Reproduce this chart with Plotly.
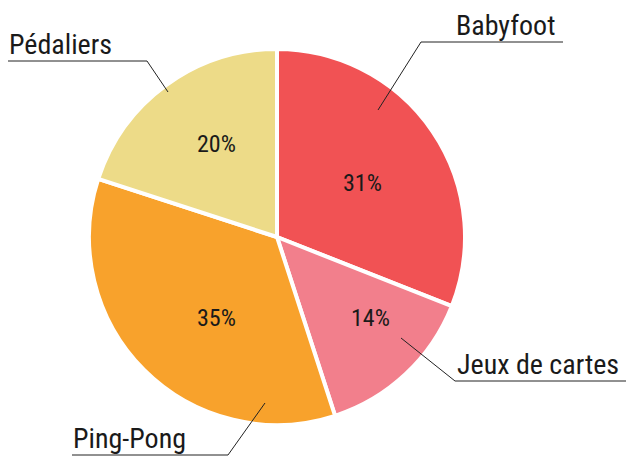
import math
import plotly.graph_objects as go

categories = ["Babyfoot", "Jeux de cartes", "Ping-Pong", "Pédaliers"]
values = [31, 14, 35, 20]
colors = ["#F15254", "#F27F8C", "#F8A22C", "#EDDB88"]

W, H = 626, 456
CX, CY, R = 277, 237, 188
FONT = "Liberation Sans Narrow, Arial Narrow, Roboto Condensed, sans-serif"

# outside label layout (pixels): line start, elbow, line end, text x, anchor
label_layout = {
    "Babyfoot":       dict(start=(378, 110), elbow=(421, 42), end=(563, 42), tx=557, anchor="right"),
    "Jeux de cartes": dict(start=(401, 338), elbow=(455, 381), end=(626, 381), tx=455, anchor="left"),
    "Ping-Pong":      dict(start=(265, 403), elbow=(228, 455), end=(72, 455), tx=71, anchor="left"),
    "Pédaliers":      dict(start=(168, 92), elbow=(147, 61), end=(8, 61), tx=7, anchor="left"),
}
# inside percent label placement: (angle offset from slice middle in deg, radius in px)
pct_layout = {
    "Babyfoot": (2, 101),
    "Jeux de cartes": (-6, 124),
    "Ping-Pong": (-8.5, 101),
    "Pédaliers": (3, 111),
}

def px(x):
    return x / W

def py(y):
    return 1 - y / H

fig = go.Figure(go.Pie(
    labels=categories,
    values=values,
    sort=False,
    direction="clockwise",
    rotation=0,
    marker=dict(colors=colors, line=dict(color="white", width=4)),
    textinfo="none",
    domain=dict(x=[px(CX - R), px(CX + R)], y=[py(CY + R), py(CY - R)]),
    hoverinfo="label+percent",
))

shapes = []
annotations = []
total = sum(values)
cum = 0
for name, v in zip(categories, values):
    mid = (cum + v / 2) / total * 360
    cum += v
    da, rr = pct_layout[name]
    ang = math.radians(mid + da)
    lx = CX + rr * math.sin(ang)
    ly = CY - rr * math.cos(ang)
    annotations.append(dict(text="{:.0f}%".format(v / total * 100), x=px(lx), y=py(ly),
                            xref="paper", yref="paper", xanchor="center", yanchor="middle",
                            showarrow=False,
                            font=dict(family=FONT, size=24, color="#1a1a1a", weight=400)))

for name in categories:
    L = label_layout[name]
    pts = [L["start"], L["elbow"], L["end"]]
    path = "M {} {} L {} {} L {} {}".format(
        px(pts[0][0]), py(pts[0][1]), px(pts[1][0]), py(pts[1][1]), px(pts[2][0]), py(pts[2][1]))
    shapes.append(dict(type="path", path=path, xref="paper", yref="paper",
                       line=dict(color="#222222", width=1)))
    annotations.append(dict(text=name, x=px(L["tx"]), y=py(L["elbow"][1] + 2),
                            xref="paper", yref="paper", xanchor=L["anchor"], yanchor="bottom",
                            showarrow=False,
                            font=dict(family=FONT, size=28, color="#1a1a1a", weight=400)))

fig.update_layout(
    width=W, height=H,
    margin=dict(l=0, r=0, t=0, b=0),
    paper_bgcolor="white",
    plot_bgcolor="white",
    showlegend=False,
    shapes=shapes,
    annotations=annotations,
)

fig.write_html("out.html", config={"displayModeBar": False},
               post_script="document.body.style.margin='0';")
